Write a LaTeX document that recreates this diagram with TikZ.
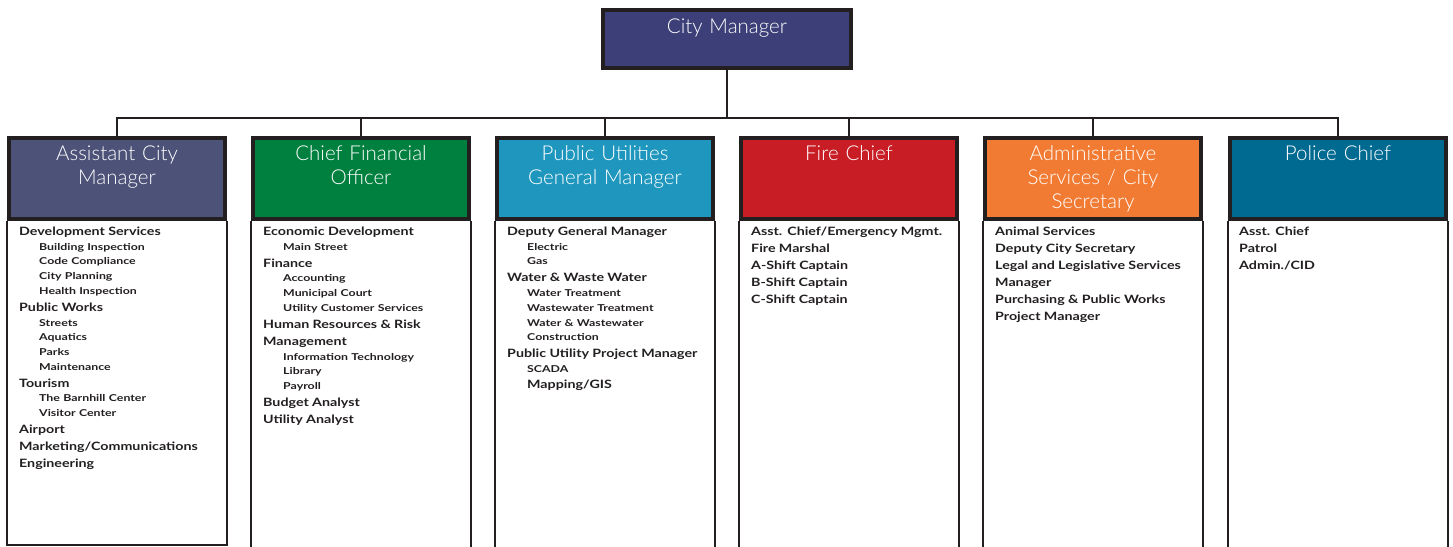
\documentclass[tikz,border=0pt]{standalone}
\usepackage{fontspec}
\setmainfont{Lato}
\newfontfamily\lightfont{Lato Light}
\newfontfamily\demifont{Lato Bold}[FakeStretch=1.24]
\newfontfamily\smallfont{Lato Bold}[FakeStretch=1.3]
\usetikzlibrary{positioning}
\definecolor{cmblue}{HTML}{3D3F78}
\definecolor{acmblue}{HTML}{4D5278}
\definecolor{cfogreen}{HTML}{00803F}
\definecolor{pucyan}{HTML}{1E96BE}
\definecolor{firered}{HTML}{C81D25}
\definecolor{adminorange}{HTML}{F27B33}
\definecolor{policeteal}{HTML}{006A91}
\definecolor{mline}{HTML}{231F20}
\newcommand{\topitem}[1]{{\demifont\fontsize{11.5}{17}\selectfont #1\par}}
\newcommand{\lowitem}[1]{{\smallfont\fontsize{9.5}{14.7}\selectfont\leftskip=20pt #1\par}}
\tikzset{hdbox/.style = {draw=mline, line width=4pt, minimum width=216pt,
                         minimum height=81pt, inner sep=0pt},
         hdtext/.style = {anchor=base, text width=212pt, align=center, inner sep=0pt,
                          text=white, font=\lightfont\fontsize{20.5}{24}\selectfont},
         bodytext/.style = {anchor=base west, text width=205pt, align=left,
                            inner sep=0pt, text=mline, font=\demifont},
         bodyline/.style = {draw=mline, line width=1.5pt},
         link/.style = {draw=mline, line width=1.6pt}}

\begin{document}
\begin{tikzpicture}[x=1pt, y=-1pt]
    \useasboundingbox (0,0) rectangle (1453,546);
    % top box
    \node [hdbox, minimum width=248pt, minimum height=57.4pt, fill=cmblue] (cm) at (727,39) {};
    \node [hdtext] (cm-t) at ([yshift=-24.7pt]cm.north) {City Manager};
    % department heads
    \foreach \n/\x/\c/\t in {acm/117/acmblue/{Assistant City\\Manager},
                             cfo/361/cfogreen/{Chief Financial\\Officer},
                             pu/605/pucyan/{Public Utilities\\General Manager},
                             fire/849/firered/{Fire Chief},
                             admin/1093/adminorange/{Administrative\\Services / City\\Secretary},
                             police/1338/policeteal/{Police Chief}} {
      \node [hdbox, fill=\c] (\n) at (\x,178.5) {};
      \node [hdtext] (\n-t) at ([yshift=-24.5pt]\n.north) {\t};
    }
    % connectors
    \coordinate (bus) at (727,118);
    \draw [link] (cm.south) -- (bus);
    \draw [link] (acm.north) |- (bus) -| (police.north);
    \foreach \n in {cfo,pu,fire,admin} {
      \draw [link] (\n.north |- bus) -- (\n.north);
    }
    % frames below the heads
    \coordinate (acmbot) at (0,545);
    \draw [bodyline] (acm.south west) -- (acm.south west |- acmbot) -- (acm.south east |- acmbot) -- (acm.south east);
    \foreach \n in {cfo,pu,fire,admin,police} {
      \draw [bodyline] (\n.south west) -- ++(0,340);
      \draw [bodyline] (\n.south east) -- ++(0,340);
    }
    % lists
    \node [bodytext] (acm-list) at (19,235.5) {%
      \topitem{Development Services}
      \lowitem{Building Inspection}
      \lowitem{Code Compliance}
      \lowitem{City Planning}
      \lowitem{Health Inspection}
      \topitem{Public Works}
      \lowitem{Streets}
      \lowitem{Aquatics}
      \lowitem{Parks}
      \lowitem{Maintenance}
      \topitem{Tourism}
      \lowitem{The Barnhill Center}
      \lowitem{Visitor Center}
      \topitem{Airport}
      \topitem{Marketing/Communications}
      \topitem{Engineering}};
    \node [bodytext] (cfo-list) at (263,235.5) {%
      \topitem{Economic Development}
      \lowitem{Main Street}
      \topitem{Finance}
      \lowitem{Accounting}
      \lowitem{Municipal Court}
      \lowitem{Utility Customer Services}
      \topitem{Human Resources \& Risk\newline Management}
      \lowitem{Information Technology}
      \lowitem{Library}
      \lowitem{Payroll}
      \topitem{Budget Analyst}
      \topitem{Utility Analyst}};
    \node [bodytext] (pu-list) at (507,235.5) {%
      \topitem{Deputy General Manager}
      \lowitem{Electric}
      \lowitem{Gas}
      \topitem{Water \& Waste Water}
      \lowitem{Water Treatment}
      \lowitem{Wastewater Treatment}
      \lowitem{Water \& Wastewater\newline Construction}
      \topitem{Public Utility Project Manager}
      \lowitem{SCADA}
      {\demifont\fontsize{11.5}{16}\selectfont\leftskip=20pt Mapping/GIS\par}};
    \node [bodytext] (fire-list) at (751,235.5) {%
      \topitem{Asst. Chief/Emergency Mgmt.}
      \topitem{Fire Marshal}
      \topitem{A-Shift Captain}
      \topitem{B-Shift Captain}
      \topitem{C-Shift Captain}};
    \node [bodytext] (admin-list) at (995,235.5) {%
      \topitem{Animal Services}
      \topitem{Deputy City Secretary}
      \topitem{Legal and Legislative Services\newline Manager}
      \topitem{Purchasing \& Public Works\newline Project Manager}};
    \node [bodytext] (police-list) at (1239,235.5) {%
      \topitem{Asst. Chief}
      \topitem{Patrol}
      \topitem{Admin./CID}};
\end{tikzpicture}
\end{document}
